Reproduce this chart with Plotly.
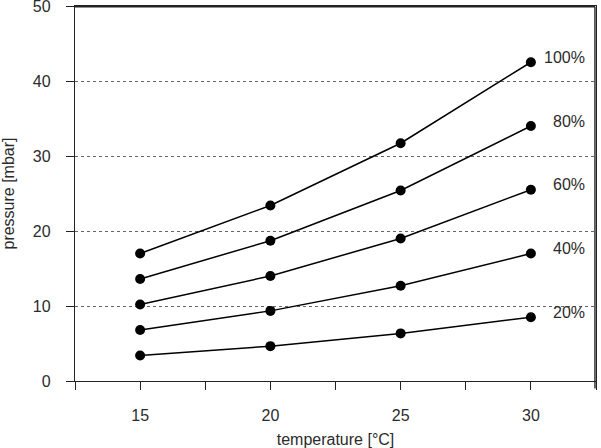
import plotly.graph_objects as go

temperature = [15, 20, 25, 30]
series_names = ["100%", "80%", "60%", "40%", "20%"]
p100 = [17.0, 23.4, 31.7, 42.5]
p80 = [13.6, 18.7, 25.4, 34.0]
p60 = [10.2, 14.0, 19.0, 25.5]
p40 = [6.8, 9.35, 12.7, 17.0]
p20 = [3.4, 4.65, 6.35, 8.5]
series_values = [p100, p80, p60, p40, p20]

x_tickvals = [12.5, 15, 17.5, 20, 22.5, 25, 27.5, 30, 32.5]
x_ticktext = ["", "15", "", "20", "", "25", "", "30", ""]
y_tickvals = [0, 10, 20, 30, 40, 50]

FONT = "Liberation Sans, Arial, sans-serif"
TXT = "#2b2b2b"

fig = go.Figure()
for name, vals in zip(series_names, series_values):
    fig.add_trace(go.Scatter(
        x=temperature, y=vals, mode="lines+markers", name=name,
        line=dict(color="black", width=1.5),
        marker=dict(color="black", size=10),
        showlegend=False, cliponaxis=False,
    ))
    fig.add_annotation(
        x=temperature[-1], y=vals[-1], text=name, showarrow=False,
        xanchor="right", yanchor="middle", xshift=56, yshift=5,
        font=dict(family=FONT, size=16, color=TXT),
    )

# plot frame: top and right borders (slightly inset so they stay visible)
fig.add_shape(type="line", xref="paper", yref="paper", x0=0, x1=0.998, y0=0.998, y1=0.998,
              line=dict(color="#222", width=1.4), layer="above")
fig.add_shape(type="line", xref="paper", yref="paper", x0=0.998, x1=0.998, y0=-0.02, y1=0.998,
              line=dict(color="#222", width=1.4), layer="above")

fig.update_layout(
    width=601, height=448,
    margin=dict(l=75, r=5, t=6, b=67, autoexpand=False),
    plot_bgcolor="white", paper_bgcolor="white",
    font=dict(family=FONT, size=16, color=TXT),
)
fig.update_xaxes(
    range=[12.5, 32.5], tickmode="array", tickvals=x_tickvals, ticktext=x_ticktext,
    ticks="outside", ticklen=8, tickwidth=1.2, tickcolor="#222",
    showline=True, linecolor="#222", linewidth=1.3, mirror=True,
    showgrid=False, zeroline=False, automargin=False,
    title=dict(text="temperature [°C]", standoff=10, font=dict(size=16)),
    tickfont=dict(size=16), ticklabeloverflow="allow", ticklabelstandoff=12,
)
fig.update_yaxes(
    range=[0, 50], tickmode="array", tickvals=y_tickvals,
    ticks="outside", ticklen=8, tickwidth=1.2, tickcolor="#222",
    showline=True, linecolor="#222", linewidth=1.3, mirror=True,
    showgrid=True, gridcolor="#666", griddash="dot", gridwidth=1,
    zeroline=False, automargin=False,
    title=dict(text="pressure [mbar]", standoff=16, font=dict(size=16)),
    tickfont=dict(size=16), ticklabeloverflow="allow", ticklabelstandoff=12,
)

fig.write_html(
    "out.html",
    config={"displayModeBar": False},
    post_script=(
        "document.documentElement.style.overflow='hidden';"
        "document.body.style.overflow='hidden';"
        "document.body.style.margin='0';document.body.style.padding='0';"
    ),
)
